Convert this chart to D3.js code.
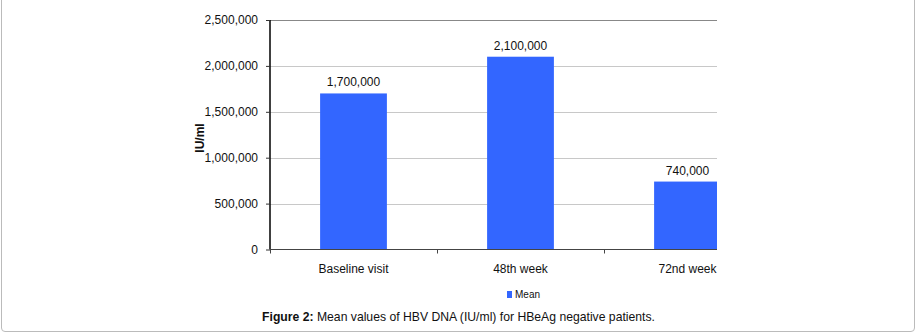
<!DOCTYPE html>
<html lang="en">
<head>
    <meta charset="UTF-8">
    <title>Mean values of HBV DNA</title>
    <script src="https://d3js.org/d3.v7.min.js"></script>
    <style>
        body { margin: 0; background: #fff; }
        svg text { font-family: 'Liberation Sans', Arial, sans-serif; fill: #111; }
    </style>
</head>
<body>
    <div id="chart"></div>
    <script>
        // chart data
        const categories = ["Baseline visit", "48th week", "72nd week"];
        const meanValues = [1700000, 2100000, 740000];
        const yTicks = [0, 500000, 1000000, 1500000, 2000000, 2500000];
        const seriesName = "Mean";

        const width = 916, height = 333;
        const plot = { left: 270, right: 717, top: 20, bottom: 249.5 };
        const barColor = "#3366ff";
        const fmt = d3.format(",");

        const svg = d3.select("#chart").append("svg")
            .attr("width", width)
            .attr("height", height);

        // outer frame (left, right, bottom)
        svg.append("path")
            .attr("d", `M1.5,0 V328 Q1.5,331.5 5,331.5 H911 Q914.5,331.5 914.5,328 V0`)
            .attr("fill", "none")
            .attr("stroke", "#bbb")
            .attr("stroke-width", 1);

        const y = d3.scaleLinear().domain([0, 2500000]).range([plot.bottom, plot.top]);
        // the third category runs past the visible plot edge, as in the source
        const x = d3.scaleBand().domain(categories).range([plot.left, plot.left + 3 * 167]).paddingInner(0.6).paddingOuter(0.3);

        svg.append("defs").append("clipPath").attr("id", "plotclip")
            .append("rect")
            .attr("x", plot.left).attr("y", 0)
            .attr("width", plot.right - plot.left).attr("height", plot.bottom + 1);

        // gridlines
        svg.append("g").selectAll("line")
            .data(yTicks.filter(d => d > 0 && d < 2500000))
            .join("line")
            .attr("x1", plot.left).attr("x2", plot.right)
            .attr("y1", d => Math.round(y(d)) + 0.5).attr("y2", d => Math.round(y(d)) + 0.5)
            .attr("stroke", "#c8c8c8");

        // top frame line
        svg.append("line")
            .attr("x1", plot.left).attr("x2", plot.right)
            .attr("y1", Math.round(y(2500000)) + 0.5).attr("y2", Math.round(y(2500000)) + 0.5)
            .attr("stroke", "#888");

        // bars
        svg.append("g").attr("clip-path", "url(#plotclip)")
            .selectAll("rect")
            .data(meanValues)
            .join("rect")
            .attr("x", (d, i) => x(categories[i]))
            .attr("width", x.bandwidth())
            .attr("y", d => y(d))
            .attr("height", d => y(0) - y(d))
            .attr("fill", barColor);

        // value labels
        svg.append("g").selectAll("text")
            .data(meanValues)
            .join("text")
            .attr("x", (d, i) => x(categories[i]) + x.bandwidth() / 2)
            .attr("y", d => y(d) - 7)
            .attr("text-anchor", "middle")
            .attr("font-size", "12px")
            .text(d => fmt(d));

        // y axis
        const yAxis = svg.append("g")
            .attr("transform", `translate(${plot.left},0)`)
            .call(d3.axisLeft(y).tickValues(yTicks).tickFormat(fmt).tickSize(4).tickPadding(8));
        yAxis.select(".domain").attr("stroke", "#000").attr("stroke-width", 1.5)
            .attr("d", `M0,${plot.top}V${plot.bottom}`);
        yAxis.selectAll(".tick line").attr("stroke", "#333");
        yAxis.selectAll(".tick text").attr("font-size", "12px").attr("font-family", "'Liberation Sans', Arial, sans-serif");

        // x axis
        const xAxis = svg.append("g")
            .attr("transform", `translate(0,${plot.bottom})`);
        xAxis.append("line")
            .attr("x1", plot.left).attr("x2", plot.right)
            .attr("stroke", "#444").attr("stroke-width", 1.2);
        xAxis.selectAll("line.tick")
            .data(categories.map((c, i) => plot.left + i * 167))
            .join("line")
            .attr("class", "tick")
            .attr("x1", d => d + 0.5).attr("x2", d => d + 0.5)
            .attr("y1", 0).attr("y2", 4)
            .attr("stroke", "#444");
        xAxis.selectAll("text")
            .data(categories)
            .join("text")
            .attr("x", d => x(d) + x.bandwidth() / 2)
            .attr("y", 23)
            .attr("text-anchor", "middle")
            .attr("font-size", "12px")
            .text(d => d);

        // y axis title
        svg.append("text")
            .attr("transform", "translate(204,138) rotate(-90)")
            .attr("text-anchor", "middle")
            .attr("font-size", "12px")
            .attr("font-weight", "bold")
            .text("IU/ml");

        // legend
        const legend = svg.append("g").attr("transform", "translate(507,291)");
        legend.append("rect").attr("width", 5).attr("height", 7).attr("fill", barColor);
        legend.append("text").attr("x", 8).attr("y", 6.5).attr("font-size", "10px").text(seriesName);

        // caption
        const caption = svg.append("text")
            .attr("x", 458.5)
            .attr("y", 321)
            .attr("text-anchor", "middle")
            .attr("font-size", "12.2px");
        caption.append("tspan").attr("font-weight", "bold").text("Figure 2:");
        caption.append("tspan").text(" Mean values of HBV DNA (IU/ml) for HBeAg negative patients.");
    </script>
</body>
</html>
